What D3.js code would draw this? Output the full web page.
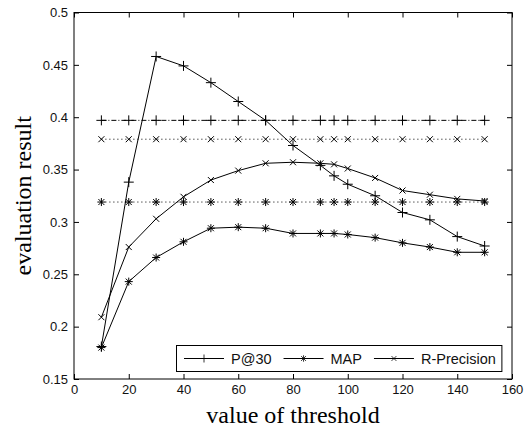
<!DOCTYPE html>
<html>
<head>
<meta charset="utf-8">
<script src="https://cdn.jsdelivr.net/npm/d3@7"></script>
<style>
  body { margin: 0; background: #fff; }
  .axis text { font-family: "Liberation Sans", Arial, sans-serif; font-size: 13px; fill: #111; }
  .axis line { stroke: #000; }
  .label { font-family: "Liberation Serif", "Times New Roman", serif; font-size: 24px; fill: #000; }
  .legend text { font-family: "Liberation Sans", Arial, sans-serif; font-size: 14.5px; fill: #111; }
</style>
</head>
<body>
<div id="chart"></div>
<script>
// thresholds on the x axis
var thresholds = [10, 20, 30, 40, 50, 60, 70, 80, 90, 95, 100, 110, 120, 130, 140, 150];

// measured series
var p30Values = [0.181, 0.338, 0.458, 0.449, 0.433, 0.415, 0.397, 0.373, 0.354, 0.344, 0.336, 0.325, 0.309, 0.302, 0.286, 0.277];
var mapValues = [0.180, 0.243, 0.266, 0.281, 0.294, 0.295, 0.294, 0.289, 0.289, 0.289, 0.288, 0.285, 0.280, 0.276, 0.271, 0.271];
var rprecValues = [0.209, 0.276, 0.303, 0.324, 0.340, 0.349, 0.356, 0.357, 0.356, 0.355, 0.351, 0.342, 0.330, 0.326, 0.322, 0.320];

// flat baselines
var p30Baseline = 0.397;
var rprecBaseline = 0.379;
var mapBaseline = 0.319;

var seriesNames = ["P@30", "MAP", "R-Precision"];
var xTicks = [0, 20, 40, 60, 80, 100, 120, 140, 160];
var yTicks = [0.15, 0.2, 0.25, 0.3, 0.35, 0.4, 0.45, 0.5];

var W = 524, H = 428;
var margin = { top: 12.5, right: 12, bottom: 49, left: 74 };
var width = W - margin.left - margin.right,
    height = H - margin.top - margin.bottom;

var svg = d3.select("#chart").append("svg")
    .attr("width", W)
    .attr("height", H)
    .append("g")
    .attr("transform", "translate(" + margin.left + "," + margin.top + ")");

var x = d3.scaleLinear().domain([0, 160]).range([0, width]);
var y = d3.scaleLinear().domain([0.15, 0.5]).range([height, 0]);

// marker shapes (matlab style)
var markers = {
    plus: "M-5,0H5M0,-5V5",
    star: "M-4,0H4M0,-4V4M-3,-3L3,3M-3,3L3,-3",
    cross: "M-3,-3L3,3M-3,3L3,-3"
};

// axes, ticks pointing inward
svg.append("g").attr("class", "axis")
    .attr("transform", "translate(0," + height + ")")
    .call(d3.axisBottom(x).tickValues(xTicks).tickSize(-5).tickPadding(6).tickFormat(d3.format("d")));
svg.append("g").attr("class", "axis")
    .call(d3.axisLeft(y).tickValues(yTicks).tickSize(-5).tickPadding(6).tickFormat(d3.format(".2~f")));
svg.append("g").attr("class", "axis")
    .call(d3.axisTop(x).tickValues(xTicks).tickSize(-5).tickFormat(""));
svg.append("g").attr("class", "axis")
    .attr("transform", "translate(" + width + ",0)")
    .call(d3.axisRight(y).tickValues(yTicks).tickSize(-5).tickFormat(""));
svg.selectAll(".axis .domain").remove();

svg.append("rect")
    .attr("x", 0).attr("y", 0)
    .attr("width", width).attr("height", height)
    .attr("fill", "none")
    .attr("stroke", "#000");

// axis titles
svg.append("text")
    .attr("class", "label")
    .attr("text-anchor", "middle")
    .attr("x", width / 2)
    .attr("y", height + 44)
    .text("value of threshold");
svg.append("text")
    .attr("class", "label")
    .attr("text-anchor", "middle")
    .attr("transform", "rotate(-90)")
    .attr("x", -height / 2)
    .attr("y", -43)
    .text("evaluation result");

var line = d3.line()
    .x(function(d, i) { return x(thresholds[i]); })
    .y(function(d) { return y(d); });

function drawSeries(values, marker, dash) {
    svg.append("path")
        .datum(values)
        .attr("d", line)
        .attr("fill", "none")
        .attr("stroke", "#000")
        .attr("stroke-width", 1)
        .attr("stroke-dasharray", dash);
    svg.selectAll(null)
        .data(values)
        .enter().append("path")
        .attr("d", marker)
        .attr("transform", function(d, i) { return "translate(" + x(thresholds[i]) + "," + y(d) + ")"; })
        .attr("fill", "none")
        .attr("stroke", "#000")
        .attr("stroke-width", 1);
}

// baselines
drawSeries(thresholds.map(function() { return p30Baseline; }), markers.plus, "5,2,1,2");
drawSeries(thresholds.map(function() { return rprecBaseline; }), markers.cross, "1,3");
drawSeries(thresholds.map(function() { return mapBaseline; }), markers.star, "1,3");

// main series
drawSeries(p30Values, markers.plus, null);
drawSeries(mapValues, markers.star, null);
drawSeries(rprecValues, markers.cross, null);

// legend
var legendMarkers = [markers.plus, markers.star, markers.cross];
var legend = svg.append("g").attr("class", "legend");
var legendBox = legend.append("rect")
    .attr("fill", "#fff")
    .attr("stroke", "#000");
var lx = 110, ly = y(0.15) - 20.5;
var cursor = lx;
seriesNames.forEach(function(name, i) {
    legend.append("line")
        .attr("x1", cursor).attr("x2", cursor + 40)
        .attr("y1", ly).attr("y2", ly)
        .attr("stroke", "#000");
    legend.append("path")
        .attr("d", legendMarkers[i])
        .attr("transform", "translate(" + (cursor + 20) + "," + ly + ") scale(0.8)")
        .attr("fill", "none")
        .attr("stroke", "#000");
    var t = legend.append("text")
        .attr("x", cursor + 47)
        .attr("y", ly + 5)
        .text(name);
    cursor = cursor + 47 + t.node().getComputedTextLength() + 12;
});
legendBox
    .attr("x", lx - 7.5)
    .attr("y", ly - 13)
    .attr("width", cursor - 12 + 6 - (lx - 7.5))
    .attr("height", 26);
</script>
</body>
</html>
